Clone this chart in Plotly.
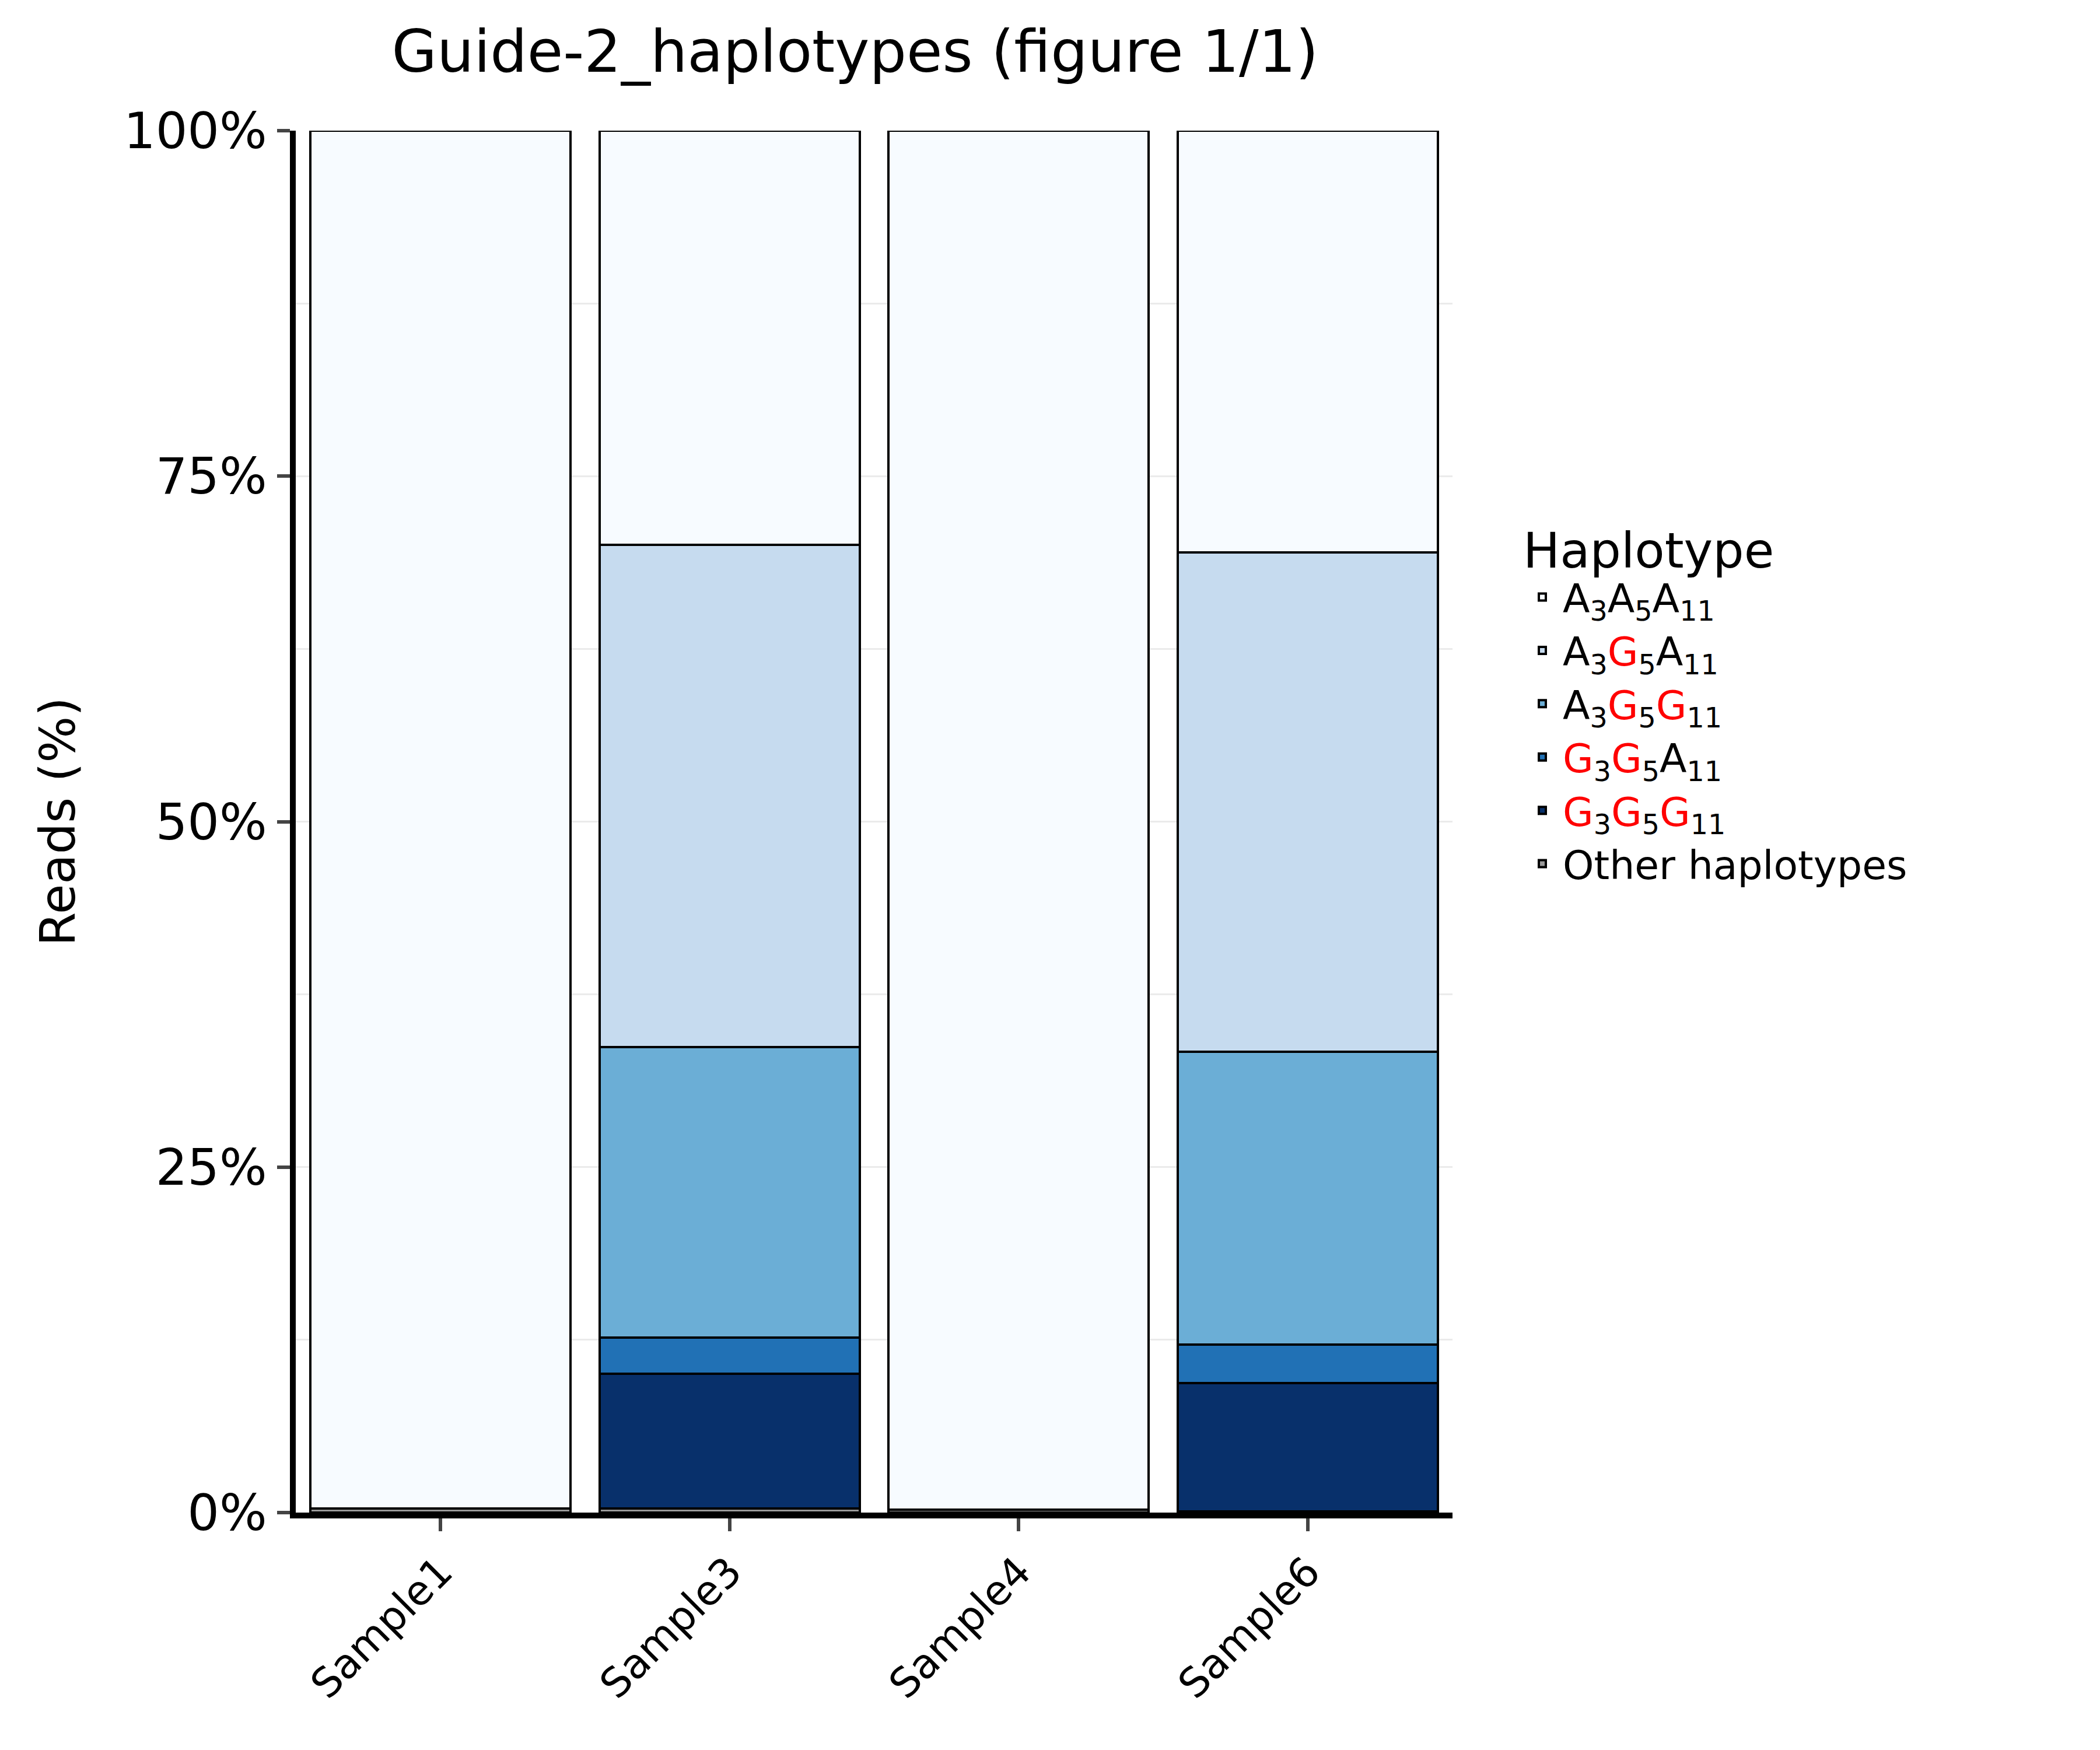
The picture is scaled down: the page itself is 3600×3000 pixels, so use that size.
import plotly.graph_objects as go

samples = ["Sample1", "Sample3", "Sample4", "Sample6"]

# percentages of reads per haplotype (bottom to top of each stack)
other = [0.3, 0.3, 0.2, 0.1]
g3g5g11 = [0, 9.75, 0, 9.27]
g3g5a11 = [0, 2.6, 0, 2.8]
a3g5g11 = [0, 21.05, 0, 21.16]
a3g5a11 = [0, 36.35, 0, 36.14]
a3a5a11 = [99.7, 29.95, 99.8, 30.53]

R = "<span style='color:red'>%s</span>"
names = [
    "Other haplotypes",
    R % "G" + "<sub>3</sub>" + R % "G" + "<sub>5</sub>" + R % "G" + "<sub>11</sub>",
    R % "G" + "<sub>3</sub>" + R % "G" + "<sub>5</sub>A<sub>11</sub>",
    "A<sub>3</sub>" + R % "G" + "<sub>5</sub>" + R % "G" + "<sub>11</sub>",
    "A<sub>3</sub>" + R % "G" + "<sub>5</sub>A<sub>11</sub>",
    "A<sub>3</sub>A<sub>5</sub>A<sub>11</sub>",
]
series = [other, g3g5g11, g3g5a11, a3g5g11, a3g5a11, a3a5a11]
colors = ["#999999", "#08306b", "#2171b5", "#6baed6", "#c6dbef", "#f7fbff"]

fig = go.Figure()
for name, vals, col in zip(names, series, colors):
    fig.add_trace(go.Bar(
        x=samples, y=vals, name=name,
        marker=dict(color=col, line=dict(color="black", width=4)),
    ))

fig.update_layout(
    width=3600, height=3000,
    barmode="stack", bargap=0.1,
    plot_bgcolor="white", paper_bgcolor="white",
    font=dict(family="DejaVu Sans", color="black", size=80),
    title=dict(text="Guide-2_haplotypes (figure 1/1)", x=0.405, y=0.985,
               xanchor="center", font=dict(size=100)),
    margin=dict(l=499, r=1118, t=216, b=415),
    legend=dict(title=dict(text="Haplotype", font=dict(size=84)),
                traceorder="reversed", x=1.06, y=0.73, yanchor="top",
                font=dict(size=68), tracegroupgap=0, itemwidth=60),
)
fig.update_xaxes(showline=True, linewidth=10, linecolor="black",
                 ticks="outside", ticklen=22, tickwidth=6, tickangle=-45,
                 tickfont=dict(size=70))
fig.update_yaxes(range=[0, 100], showline=True, linewidth=10, linecolor="black",
                 ticks="outside", ticklen=22, tickwidth=6,
                 tickvals=[0, 25, 50, 75, 100], ticktext=["0%", "25%", "50%", "75%", "100%"],
                 tickfont=dict(size=86),
                 showgrid=True, gridcolor="#ebebeb", gridwidth=3,
                 minor=dict(tickvals=[12.5, 37.5, 62.5, 87.5], showgrid=True,
                            gridcolor="#ebebeb", gridwidth=3),
                 title=dict(text="Reads (%)", font=dict(size=84), standoff=60))

fig.write_html("out.html")
